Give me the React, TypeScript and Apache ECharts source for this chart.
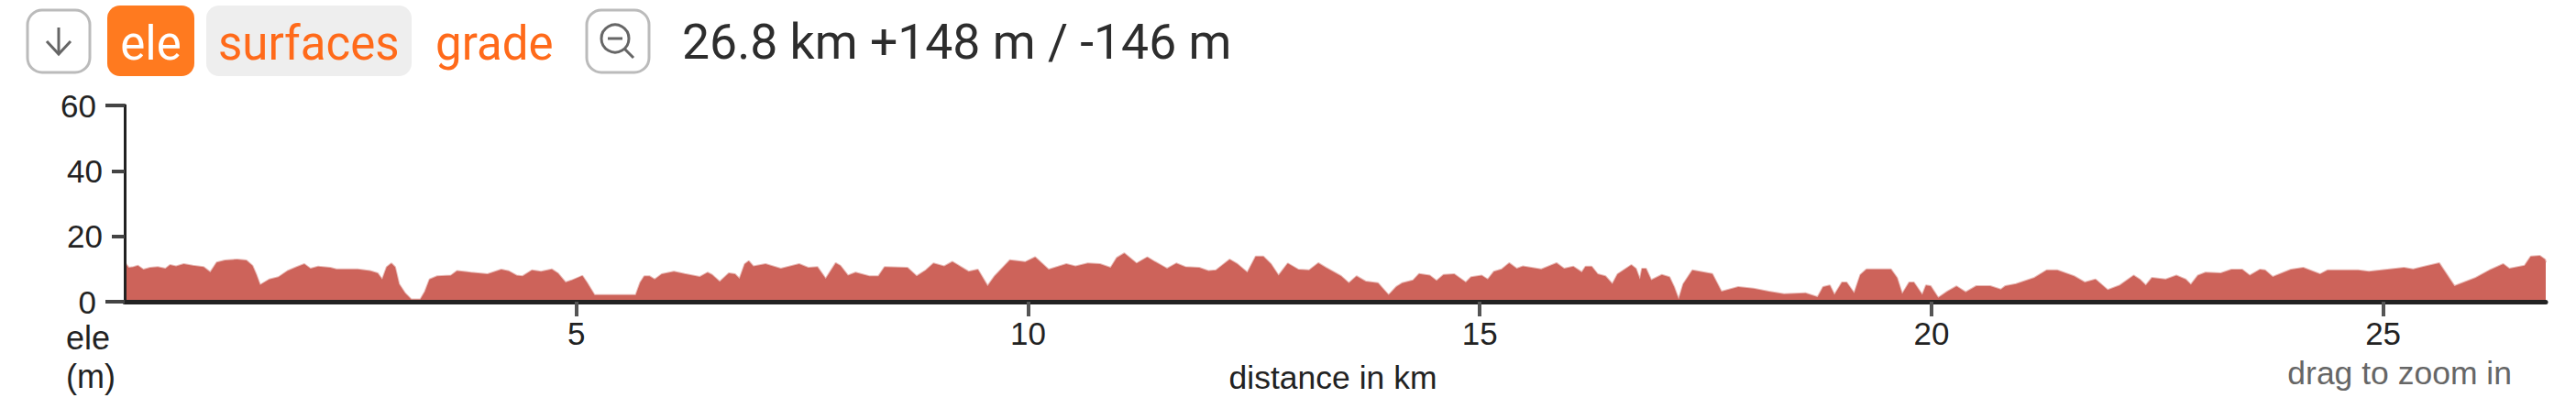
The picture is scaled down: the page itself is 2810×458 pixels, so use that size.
import React, { useEffect, useRef } from "react";
import * as echarts from "echarts";

const distanceKm = [
  0, 0.045, 0.096, 0.147, 0.208, 0.282, 0.366, 0.451, 0.502, 0.569, 0.654, 0.755, 0.874, 0.948, 1.019, 1.11, 1.245, 1.347, 1.414, 1.458, 1.499, 1.6, 1.702, 1.803, 1.904, 1.989, 2.057, 2.141, 2.276, 2.344, 2.58, 2.716, 2.8, 2.851, 2.901, 2.952, 2.993, 3.037, 3.104, 3.172, 3.273, 3.324, 3.375, 3.459, 3.611, 3.679, 3.831, 4.017, 4.169, 4.253, 4.338, 4.405,
  4.508, 4.609, 4.728, 4.795, 4.88, 4.947, 5.066, 5.116, 5.201, 5.657, 5.708, 5.752, 5.809, 5.867, 5.945, 6.08, 6.198, 6.367, 6.452, 6.502, 6.587, 6.688, 6.756, 6.806, 6.864, 6.908, 6.959, 7.094, 7.263, 7.466, 7.567, 7.668, 7.76, 7.871, 7.922, 8.006, 8.091, 8.243, 8.344, 8.412, 8.665, 8.767, 8.868, 8.953,
  9.072, 9.163, 9.258, 9.342, 9.444, 9.552, 9.63, 9.799, 9.968, 10.079, 10.228, 10.424, 10.525, 10.661, 10.796, 10.914, 10.982, 11.066, 11.201, 11.32, 11.404, 11.539, 11.641, 11.742, 11.894, 11.996, 12.08, 12.232, 12.317, 12.428, 12.52, 12.604, 12.689, 12.773, 12.875, 12.993, 13.111, 13.213, 13.297, 13.466, 13.551,
  13.636, 13.737, 13.873, 13.991, 14.075, 14.143, 14.261, 14.329, 14.447, 14.522, 14.599, 14.718, 14.846, 14.904, 15.022, 15.089, 15.157, 15.242, 15.326, 15.41, 15.478, 15.681, 15.85, 15.934, 16.036, 16.13, 16.171, 16.239, 16.306, 16.391, 16.468, 16.526, 16.678, 16.729, 16.773, 16.796, 16.84, 16.898, 17.016, 17.1, 17.151, 17.202, 17.253, 17.354, 17.574, 17.675, 17.861, 18.03,
  18.199, 18.368, 18.605, 18.74, 18.801, 18.875, 18.926, 19.01, 19.061, 19.145, 19.213, 19.281, 19.551, 19.619, 19.676, 19.754, 19.805, 19.899, 19.94, 19.99, 20.075, 20.176, 20.278, 20.379, 20.497, 20.65, 20.768, 20.819, 20.937, 21.14, 21.275, 21.393, 21.579, 21.697, 21.816, 21.951, 22.086, 22.238, 22.306, 22.373, 22.441, 22.593, 22.711,
  22.814, 22.872, 22.95, 23.034, 23.203, 23.321, 23.44, 23.524, 23.636, 23.693, 23.778, 23.98, 24.116, 24.301, 24.386, 24.724, 24.842, 25.231, 25.332, 25.434, 25.62, 25.789, 26.025, 26.177, 26.33, 26.397, 26.566, 26.634, 26.735, 26.792, 26.8,
];

const elevationM = [
  12.0, 10.4, 10.6, 11.0, 9.8, 10.4, 10.6, 10.1, 11.2, 10.8, 11.5, 11.0, 10.6, 9.0, 12.0, 12.6, 12.9, 12.6, 11.0, 8.2, 5.1, 6.8, 7.5, 9.4, 10.6, 11.5, 10.1, 10.7, 10.4, 9.9, 9.9, 9.4, 8.7, 6.8, 10.6, 11.7, 10.6, 5.4, 2.6, 0.7, 0.7, 3.1, 6.8, 7.8, 8.0, 9.4, 8.9, 8.4, 9.8, 9.3, 8.0, 7.8,
  9.6, 9.2, 9.9, 8.7, 5.9, 6.5, 7.9, 5.9, 2.0, 2.0, 5.9, 7.8, 7.8, 6.8, 8.4, 9.2, 8.5, 7.6, 8.9, 8.2, 6.1, 8.7, 8.4, 7.0, 11.5, 12.4, 10.8, 11.5, 10.1, 11.5, 10.4, 10.6, 7.0, 11.8, 11.0, 8.0, 8.9, 7.8, 7.8, 10.6, 10.4, 7.8, 9.6, 11.7,
  10.8, 12.2, 10.6, 9.2, 9.8, 4.8, 7.8, 12.7, 12.1, 13.6, 9.8, 11.5, 10.8, 11.7, 11.5, 10.4, 13.4, 14.8, 11.7, 13.6, 12.2, 10.1, 11.7, 10.6, 10.4, 9.4, 9.6, 12.9, 11.5, 8.9, 13.8, 13.8, 11.5, 8.0, 11.7, 9.8, 9.6, 11.8, 10.4, 7.8, 5.7,
  7.8, 6.2, 5.7, 2.0, 4.5, 5.7, 6.5, 8.5, 8.0, 6.4, 8.2, 8.4, 5.9, 7.5, 8.0, 6.8, 9.2, 9.9, 11.8, 10.1, 10.8, 9.9, 11.8, 10.1, 10.7, 9.0, 10.7, 10.7, 8.4, 7.8, 5.4, 8.4, 11.2, 10.1, 6.8, 10.1, 10.1, 6.6, 8.2, 7.5, 4.5, 0.7, 5.4, 9.6, 8.5, 3.1, 4.5, 4.0,
  3.1, 2.3, 2.6, 1.4, 4.5, 5.0, 2.1, 5.9, 5.9, 2.6, 8.2, 9.9, 9.9, 7.3, 2.4, 5.9, 5.9, 2.1, 5.0, 4.8, 1.2, 3.1, 4.7, 2.9, 4.8, 4.8, 3.7, 4.8, 5.4, 7.3, 9.6, 9.6, 7.8, 5.9, 6.8, 3.6, 5.0, 8.0, 6.8, 5.0, 7.3, 6.8, 8.0,
  6.8, 5.2, 8.0, 8.9, 8.7, 9.8, 9.8, 8.0, 9.8, 9.6, 7.6, 9.8, 10.4, 8.4, 9.6, 9.6, 9.2, 10.4, 9.9, 10.6, 11.8, 4.8, 7.3, 9.6, 11.5, 10.1, 11.0, 13.8, 14.0, 12.9, 12.0,
];

const xTickValues = [5, 10, 15, 20, 25];
const yOuterTicks = [0, 60];
const yInnerTicks = [20, 40];
const statsText = "26.8 km +148 m / -146 m";
const tabs = ["ele", "surfaces", "grade"];

const UI_FONT = "Roboto, sans-serif";
const AXIS_FONT = "'Liberation Sans', Arial, sans-serif";
const ORANGE = "#ff7a1f";
const TAB_TEXT = "#ff6a1a";
const ICON = "#666666";
const AREA = "#cd635a";
const INK = "#222222";

function tabText(text: string, x: number, fill: string, align = "left") {
  return {
    type: "text",
    x,
    y: 47,
    silent: true,
    style: { text, fill, font: `51px ${UI_FONT}`, align, verticalAlign: "middle" },
  };
}

function plainText(text: string, x: number, y: number, fill: string, size: number, align: string) {
  return {
    type: "text",
    x,
    y,
    silent: true,
    style: { text, fill, font: `${size}px ${AXIS_FONT}`, align, verticalAlign: "middle" },
  };
}

function button(x: number, width: number) {
  return {
    type: "rect",
    shape: { x, y: 11, width, height: 68, r: 16 },
    style: { fill: "#fff", stroke: "#bbbbbb", lineWidth: 3 },
  };
}

function iconLine(points: number[][]) {
  return {
    type: "polyline",
    shape: { points },
    style: { fill: "none", stroke: ICON, lineWidth: 3 },
  };
}

export default function App() {
  const ref = useRef<HTMLDivElement>(null);

  useEffect(() => {
    const chart = echarts.init(ref.current!, undefined, { renderer: "svg" });
    const yAxisBase = {
      type: "value",
      min: 0,
      max: 60,
      interval: 20,
      z: 5,
      splitLine: { show: false },
      axisLine: { show: true, onZero: false, lineStyle: { color: INK, width: 3 } },
    };
    chart.setOption({
      animation: false,
      grid: { left: 136, right: 33, top: 115, bottom: 129, containLabel: false },
      xAxis: {
        type: "value",
        min: 0,
        max: 26.8,
        z: 5,
        splitLine: { show: false },
        axisLine: { show: true, onZero: false, lineStyle: { color: INK, width: 5 } },
        axisTick: {
          show: true,
          length: 16,
          customValues: xTickValues,
          lineStyle: { color: "#555555", width: 4 },
        },
        axisLabel: {
          show: true,
          customValues: xTickValues,
          margin: 17,
          fontSize: 35,
          color: INK,
          fontFamily: AXIS_FONT,
        },
      },
      yAxis: [
        {
          ...yAxisBase,
          axisTick: {
            show: true,
            length: 21,
            customValues: yOuterTicks,
            lineStyle: { color: "#444444", width: 4 },
          },
          axisLabel: {
            show: true,
            customValues: yOuterTicks,
            margin: 31,
            fontSize: 35,
            color: INK,
            fontFamily: AXIS_FONT,
          },
        },
        {
          ...yAxisBase,
          position: "left",
          axisTick: {
            show: true,
            length: 14,
            customValues: yInnerTicks,
            lineStyle: { color: "#444444", width: 4 },
          },
          axisLabel: {
            show: true,
            customValues: yInnerTicks,
            margin: 24,
            fontSize: 35,
            color: INK,
            fontFamily: AXIS_FONT,
          },
        },
      ],
      series: [
        {
          type: "line",
          yAxisIndex: 0,
          data: distanceKm.map((km, i) => [km, elevationM[i]]),
          showSymbol: false,
          smooth: false,
          z: 1,
          lineStyle: { color: AREA, width: 2, opacity: 0.45 },
          areaStyle: { color: AREA, opacity: 1 },
          silent: true,
        },
      ],
      graphic: [
        button(30, 68),
        iconLine([[64, 30], [64, 59]]),
        iconLine([[51, 45], [64, 59], [77, 45]]),
        {
          type: "rect",
          shape: { x: 117, y: 6, width: 95, height: 77, r: 14 },
          style: { fill: ORANGE },
        },
        {
          type: "rect",
          shape: { x: 225, y: 6, width: 224, height: 77, r: 14 },
          style: { fill: "#eeeeee" },
        },
        tabText(tabs[0], 164.5, "#ffffff", "center"),
        tabText(tabs[1], 238, TAB_TEXT),
        tabText(tabs[2], 475, TAB_TEXT),
        button(640, 68),
        {
          type: "circle",
          shape: { cx: 671, cy: 42, r: 15 },
          style: { fill: "none", stroke: ICON, lineWidth: 3 },
        },
        iconLine([[663, 42], [679, 42]]),
        iconLine([[681, 53], [691, 63]]),
        {
          type: "text",
          x: 744,
          y: 45,
          silent: true,
          style: {
            text: statsText,
            fill: "#2d2d2d",
            font: `53.5px ${UI_FONT}`,
            align: "left",
            verticalAlign: "middle",
          },
        },
        plainText("ele", 72, 368, INK, 36, "left"),
        plainText("(m)", 72, 410, INK, 36, "left"),
        plainText("distance in km", 1454, 412, INK, 35.5, "center"),
        plainText("drag to zoom in", 2740, 407, "#666666", 35.5, "right"),
      ],
    });
    return () => chart.dispose();
  }, []);

  return (
    <div
      ref={ref}
      style={{ position: "fixed", left: 0, top: 0, width: 2810, height: 458, background: "#fff" }}
    />
  );
}
